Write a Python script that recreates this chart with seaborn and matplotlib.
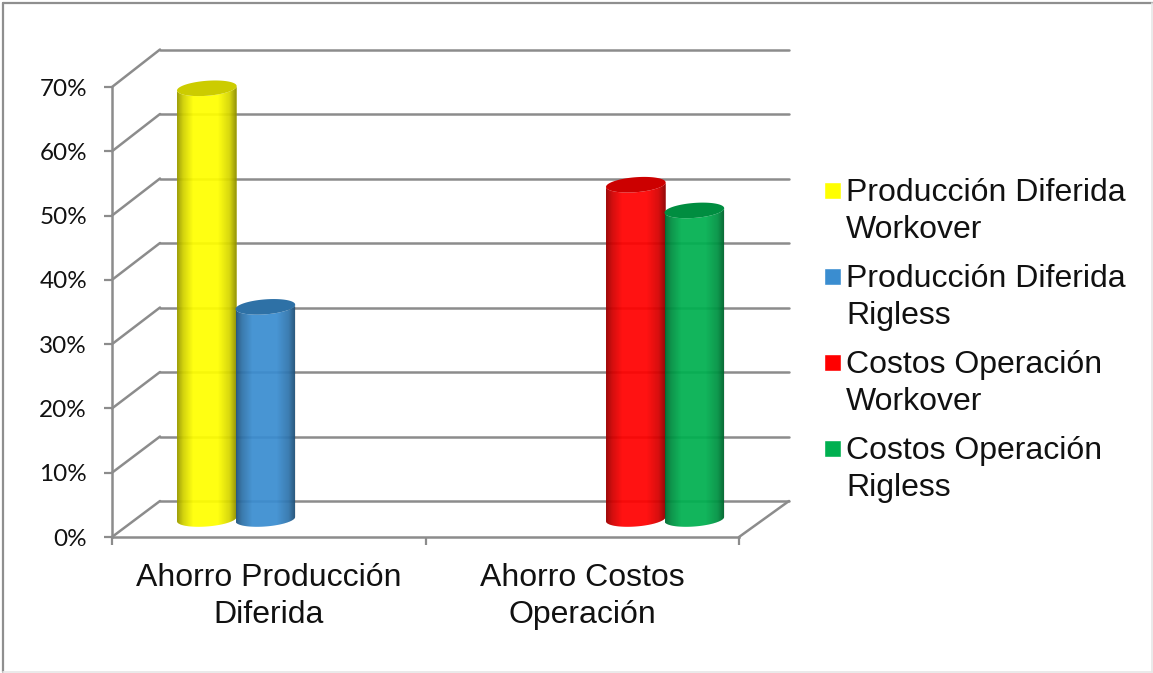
import numpy as np
import pandas as pd
import matplotlib
matplotlib.use("Agg")
import matplotlib.pyplot as plt
import seaborn as sns
from matplotlib.colors import to_rgb
from matplotlib.lines import Line2D
from matplotlib.path import Path
from matplotlib.patches import ConnectionPatch, Patch, PathPatch, Rectangle
from matplotlib.legend_handler import HandlerPatch

categories = ["Ahorro Producción\nDiferida", "Ahorro Costos\nOperación"]
series = ["Producción Diferida\nWorkover", "Producción Diferida\nRigless",
          "Costos Operación\nWorkover", "Costos Operación\nRigless"]
row_category = [categories[0], categories[0], categories[1], categories[1]]
row_series = series
row_values = [67, 33, 52, 48]
colors = ["#FFFF00", "#3A8DD0", "#FF0000", "#00B050"]
y_ticks = [0, 10, 20, 30, 40, 50, 60, 70]
GRID = "#8C8C8C"

sns.set_theme(style="white")
plt.rcParams["font.family"] = ["Liberation Sans", "DejaVu Sans"]

W, H = 1153, 673
fig = plt.figure(figsize=(W / 100, H / 100), dpi=100, facecolor="white")


def px_axes(left, right, top, bottom, z):
    a = fig.add_axes([left / W, 1 - bottom / H, (right - left) / W, (bottom - top) / H])
    a.set_zorder(z)
    a.patch.set_visible(False)
    a.set_xlim(-0.5, 1.5)
    a.set_ylim(0, 70)
    return a


# back wall, front axis plane and the plane that carries the cylinders
back = px_axes(160, 789, 49.5, 501, 0)
front = px_axes(112, 739, 87, 537, 1)
ax = px_axes(138, 762, 69, 519, 2)

for s in back.spines.values():
    s.set_visible(False)
back.set_xticks([])
back.set_yticks(y_ticks)
back.tick_params(left=False, labelleft=False)
back.grid(axis="y", color=GRID, lw=1.8)
for gl in back.get_ygridlines():
    gl.set_clip_on(False)
back.set_axisbelow(True)

for s in ["top", "right"]:
    front.spines[s].set_visible(False)
for s in ["left", "bottom"]:
    front.spines[s].set_color(GRID)
    front.spines[s].set_linewidth(1.8)
front.set_yticks(y_ticks)
front.set_yticklabels([f"{v}%" for v in y_ticks], family="Lato", fontsize=17.5, color="#111111")
front.set_xticks([-0.5, 0.5, 1.5])
front.set_xticklabels([])
front.set_xticks([0, 1], minor=True)
front.set_xticklabels(categories, minor=True, fontsize=23, color="#111111", linespacing=1.3)
front.tick_params(axis="both", which="major", length=6, width=1.6, color=GRID, direction="out",
                  left=True, bottom=True)
front.tick_params(axis="y", pad=12)
front.tick_params(axis="x", which="minor", length=0, pad=19)

for v in y_ticks:
    fig.add_artist(ConnectionPatch((-0.5, v), (-0.5, v), coordsA=front.transData, coordsB=back.transData,
                                   color=GRID, lw=1.8, zorder=0.5))
fig.add_artist(ConnectionPatch((1.5, 0), (1.5, 0), coordsA=front.transData, coordsB=back.transData,
                               color=GRID, lw=1.8, zorder=0.5))

# cylinders
df = pd.DataFrame({"categoria": row_category, "serie": row_series, "valor": row_values})
sns.barplot(data=df, x="categoria", y="valor", hue="serie", order=categories, hue_order=series,
            palette=colors, width=0.75, gap=0, dodge=True, errorbar=None, saturation=1,
            legend=False, ax=ax)
ax.set_axis_off()
ax.set_xlim(-0.5, 1.5)
ax.set_ylim(0, 70)

b_el = 7.5 * 70 / 450    # ellipse half height, data units
k_el = 2.2 * 70 / 450    # ellipse tilt, data units
stops_x = [0, 0.1, 0.27, 0.68, 0.88, 1]
stops_a = [0.38, 0.18, 0.0, 0.0, 0.16, 0.44]
shade = np.interp(np.linspace(0, 1, 128), stops_x, stops_a)
overlay = np.zeros((1, 128, 4))
overlay[..., 3] = shade

bars = [p for p in ax.patches if p.get_height() > 0]
bars.sort(key=lambda p: p.get_x())
for i, bar in enumerate(bars):
    x0, w, v = bar.get_x(), bar.get_width() * 1.02, bar.get_height()
    xc = x0 + w / 2
    t_low = np.linspace(np.pi, 2 * np.pi, 60)
    ex = xc + w / 2 * np.cos(t_low)
    base_y = b_el * np.sin(t_low) + k_el * np.cos(t_low)
    body = np.column_stack([np.r_[ex, ex[::-1]], np.r_[base_y, (v + base_y)[::-1]]])
    clip = Path(np.r_[body, body[:1]], closed=True)
    z = 3 + i * 0.1
    color = bar.get_facecolor()
    bar.set_width(w)
    bar.set_y(-b_el - k_el)
    bar.set_height(v + b_el + 2 * k_el)
    bar.set_alpha(0.93)
    bar.set_linewidth(0)
    bar.set_zorder(z)
    bar.set_clip_path(clip, transform=ax.transData)
    bar.set_clip_box(None)
    im = ax.imshow(overlay, extent=[x0, x0 + w, -b_el - k_el, v + 2 * k_el], aspect="auto",
                   interpolation="bilinear", zorder=z + 0.01)
    im.set_clip_path(clip, transform=ax.transData)
    im.set_clip_box(fig.bbox)
    t = np.linspace(0, 2 * np.pi, 120)
    top = np.column_stack([xc + w / 2 * np.cos(t), v + b_el * np.sin(t) + k_el * np.cos(t)])
    cap_col = tuple(c * 0.8 for c in to_rgb(color))
    cap = PathPatch(Path(top, closed=False), facecolor=cap_col, edgecolor="none", zorder=z + 0.02, clip_on=False)
    ax.add_patch(cap)
ax.set_xlim(-0.5, 1.5)
ax.set_ylim(0, 70)


# legend with the square beside the first line of each entry
def first_line_square(legend, orig_handle, xdescent, ydescent, width, height, fontsize):
    return Rectangle((-xdescent, -ydescent + 17.2), 12.5, 12.5)


handles = [Patch(facecolor=c, label=s) for c, s in zip(colors, series)]
leg = fig.legend(handles=handles, loc="upper left", bbox_to_anchor=(823.5 / W, 1 - 178 / H),
                 frameon=False, fontsize=23, borderpad=0, borderaxespad=0, handlelength=0.55,
                 handletextpad=0.155, labelspacing=0.6, labelcolor="#111111",
                 handler_map={Patch: HandlerPatch(patch_func=first_line_square)})
for txt in leg.get_texts():
    txt.set_linespacing(1.3)

# outer frame of the picture
fig.add_artist(Line2D([2.5 / W, 2.5 / W], [1.5 / H, 1 - 2.5 / H], color="#8F8F8F", lw=1.6, zorder=5))
fig.add_artist(Line2D([2.5 / W, 1], [1 - 2.5 / H, 1 - 2.5 / H], color="#8F8F8F", lw=1.6, zorder=5))
fig.add_artist(Line2D([2.5 / W, 1], [1 / H, 1 / H], color="#E6E6E6", lw=1.2, zorder=5))
fig.add_artist(Line2D([1 - 1 / W, 1 - 1 / W], [1 / H, 1 - 2.5 / H], color="#E6E6E6", lw=1.2, zorder=5))

fig.savefig("out.png", dpi=100, facecolor="white")
